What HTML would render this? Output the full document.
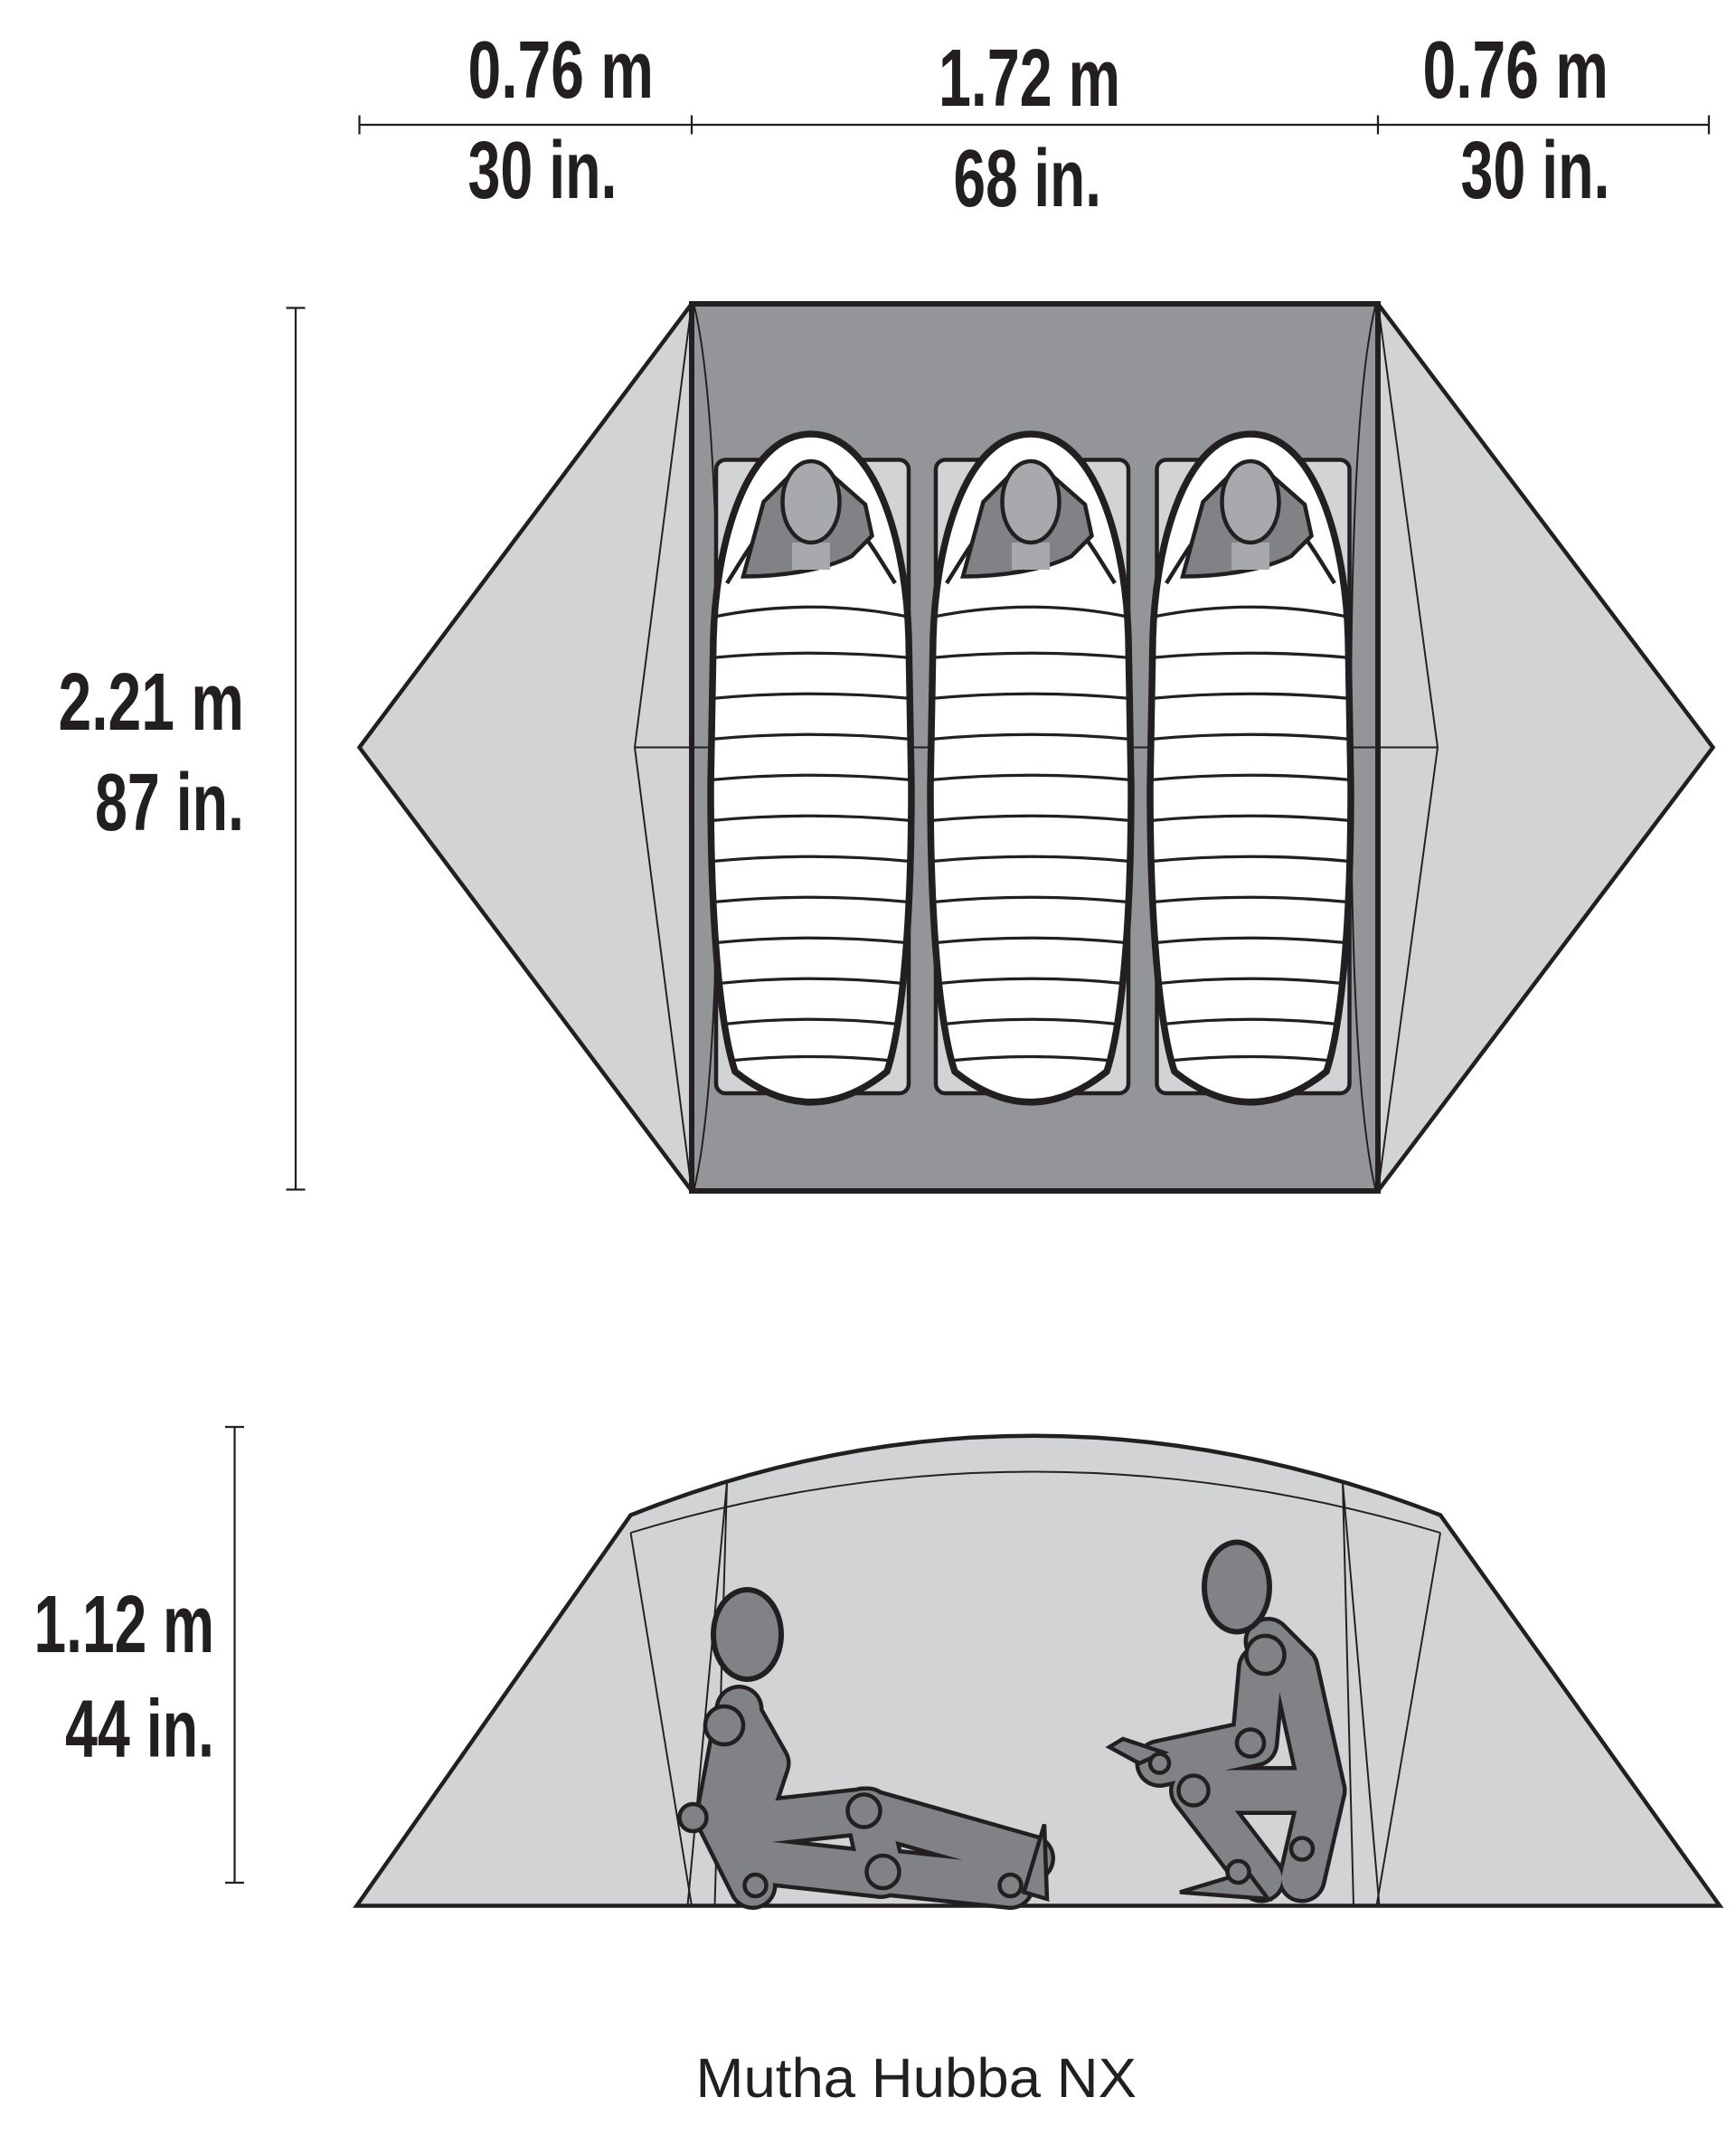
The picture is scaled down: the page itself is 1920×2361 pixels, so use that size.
<!DOCTYPE html>
<html><head><meta charset="utf-8"><style>
html,body{margin:0;padding:0;background:#fff;}
svg{display:block;}
.t{font-family:"Liberation Sans",sans-serif;font-weight:bold;fill:#231f20;font-size:60px;}
</style></head><body>
<svg width="1920" height="2361" viewBox="0 0 1280 1574" xmlns="http://www.w3.org/2000/svg">
<defs>
<g id="bag">
 <path d="M0,320 C48,320 70,400 72,470 L74,580 C74,690 66,760 56,790 Q0,835 -56,790 C-66,760 -74,690 -74,580 L-72,470 C-70,400 -48,320 0,320Z" fill="#fff" stroke="#231f20" stroke-width="5"/>
 <path d="M-62,430 C-40,395 -30,375 0,372 C30,375 40,395 62,430" fill="none" stroke="#231f20" stroke-width="3"/>
 <path d="M-50,425 L-35,370 L-15,350 L15,350 L40,372 L45,395 L30,410 C10,420 -20,425 -50,425Z" fill="#808285" stroke="#231f20" stroke-width="3"/>
 <path d="M-14,400 L-14,420 L14,420 L14,400Z" fill="#a7a9ac"/>
 <ellipse cx="0" cy="370" rx="21" ry="30" fill="#a7a9ac" stroke="#231f20" stroke-width="3"/>
 <g stroke="#231f20" stroke-width="2.2" fill="none">
  <path d="M-73,455 Q0,440 73,455"/><path d="M-74,485 Q0,478 74,485"/><path d="M-74,515 Q0,508 74,515"/>
  <path d="M-74,545 Q0,538 74,545"/><path d="M-74,575 Q0,568 74,575"/><path d="M-74,605 Q0,598 74,605"/>
  <path d="M-73,635 Q0,628 73,635"/><path d="M-72,665 Q0,658 72,665"/><path d="M-70,695 Q0,688 70,695"/>
  <path d="M-68,725 Q0,718 68,725"/><path d="M-64,755 Q0,748 64,755"/><path d="M-60,782 Q0,776 60,782"/>
 </g>
</g>
</defs>
<g stroke="#231f20" stroke-width="1.5">
<line x1="265" y1="92" x2="1260" y2="92"/>
<line x1="265" y1="85" x2="265" y2="99"/><line x1="510" y1="85" x2="510" y2="99"/>
<line x1="1016" y1="85" x2="1016" y2="99"/><line x1="1260" y1="85" x2="1260" y2="99"/>
<line x1="218" y1="227" x2="218" y2="877"/><line x1="211" y1="227" x2="225" y2="227"/><line x1="211" y1="877" x2="225" y2="877"/>
<line x1="173" y1="1052" x2="173" y2="1388"/><line x1="166" y1="1052" x2="180" y2="1052"/><line x1="166" y1="1388" x2="180" y2="1388"/>
</g>
<g class="t">
<text x="345" y="72" textLength="137" lengthAdjust="spacingAndGlyphs">0.76 m</text>
<text x="345" y="146" textLength="110" lengthAdjust="spacingAndGlyphs">30 in.</text>
<text x="692" y="78" textLength="134" lengthAdjust="spacingAndGlyphs">1.72 m</text>
<text x="703" y="152" textLength="109" lengthAdjust="spacingAndGlyphs">68 in.</text>
<text x="1049" y="72" textLength="137" lengthAdjust="spacingAndGlyphs">0.76 m</text>
<text x="1077" y="146" textLength="110" lengthAdjust="spacingAndGlyphs">30 in.</text>
<text x="43" y="538" textLength="137" lengthAdjust="spacingAndGlyphs">2.21 m</text>
<text x="70" y="612" textLength="110" lengthAdjust="spacingAndGlyphs">87 in.</text>
<text x="25" y="1218" textLength="133" lengthAdjust="spacingAndGlyphs">1.12 m</text>
<text x="48" y="1295" textLength="110" lengthAdjust="spacingAndGlyphs">44 in.</text>
</g>
<polygon points="265,551 510,224 1016,224 1263,551 1016,878 510,878" fill="#d1d3d4" stroke="#231f20" stroke-width="3"/>
<rect x="510" y="224" width="506" height="654" fill="#939598" stroke="#231f20" stroke-width="4"/>
<g stroke="#231f20" stroke-width="1.3" fill="none">
<path d="M510,224 L468,551 L510,878"/><path d="M1016,224 L1060,551 L1016,878"/>
<path d="M512,226 Q530,300 530,551 Q530,800 512,876"/><path d="M1014,226 Q996,300 996,551 Q996,800 1014,876"/>
<line x1="468" y1="551" x2="1060" y2="551"/>
</g>
<g fill="#d1d3d4" stroke="#231f20" stroke-width="3">
<rect x="528" y="339" width="142" height="467" rx="7"/>
<rect x="690" y="339" width="142" height="467" rx="7"/>
<rect x="853" y="339" width="142" height="467" rx="7"/>
</g>
<use href="#bag" x="598"/><use href="#bag" x="760"/><use href="#bag" x="922"/>
<path d="M263,1405 L465,1117 Q760,1000 1062,1117 L1268,1405 Z" fill="#d1d3d4" stroke="#231f20" stroke-width="3"/>
<g stroke="#231f20" stroke-width="1.3" fill="none">
<path d="M465,1130 Q760,1040 1062,1130"/>
<path d="M536,1093 L507,1405"/><path d="M536,1093 L527,1405"/><path d="M465,1130 L510,1405"/>
<path d="M990,1093 L1017,1405"/><path d="M990,1093 L998,1405"/><path d="M1062,1130 L1015,1405"/>
</g>
<g stroke-linecap="round" stroke-linejoin="round" fill="none">
<g stroke="#231f20" stroke-width="36">
<path d="M545,1260 L530,1340 L555,1390"/><path d="M548,1270 L565,1300 L550,1345 L640,1335 L650,1380 L745,1390"/>
<path d="M560,1372 L650,1382"/><path d="M637,1335 L760,1370"/>
</g>
<g stroke="#808285" stroke-width="30">
<path d="M545,1260 L530,1340 L555,1390"/><path d="M548,1270 L565,1300 L550,1345 L640,1335 L650,1380 L745,1390"/>
<path d="M560,1372 L650,1382"/><path d="M637,1335 L760,1370"/>
</g>
</g>
<path d="M755,1395 L770,1345 L772,1400 Z" fill="#808285" stroke="#231f20" stroke-width="3"/>
<ellipse cx="551" cy="1205" rx="25" ry="33" fill="#808285" stroke="#231f20" stroke-width="4"/>
<g fill="#808285" stroke="#231f20" stroke-width="3">
<circle cx="534" cy="1272" r="14"/><circle cx="511" cy="1340" r="10"/><circle cx="637" cy="1335" r="12"/>
<circle cx="651" cy="1380" r="12"/><circle cx="557" cy="1390" r="8"/><circle cx="745" cy="1390" r="8"/>
</g>
<g stroke-linecap="round" stroke-linejoin="round" fill="none">
<g stroke="#231f20" stroke-width="36">
<path d="M935,1210 L955,1230 L975,1320 L880,1320 L930,1385"/><path d="M975,1320 L960,1385"/>
<path d="M930,1230 L925,1285 L855,1300"/>
</g>
<g stroke="#808285" stroke-width="30">
<path d="M935,1210 L955,1230 L975,1320 L880,1320 L930,1385"/><path d="M975,1320 L960,1385"/>
<path d="M930,1230 L925,1285 L855,1300"/>
</g>
</g>
<path d="M840,1300 L818,1288 L828,1282 L858,1292Z" fill="#808285" stroke="#231f20" stroke-width="3"/>
<path d="M870,1395 L920,1380 L935,1400 Z" fill="#808285" stroke="#231f20" stroke-width="3"/>
<ellipse cx="912" cy="1170" rx="24" ry="33" fill="#808285" stroke="#231f20" stroke-width="4"/>
<g fill="#808285" stroke="#231f20" stroke-width="3">
<circle cx="933" cy="1220" r="14"/><circle cx="922" cy="1285" r="10"/><circle cx="880" cy="1320" r="11"/>
<circle cx="855" cy="1300" r="7"/><circle cx="960" cy="1363" r="8"/><circle cx="913" cy="1380" r="8"/>
</g>
<text x="513" y="1546" textLength="325" lengthAdjust="spacingAndGlyphs" font-family="'Liberation Sans',sans-serif" font-size="41" fill="#231f20">Mutha Hubba NX</text>
</svg>
</body></html>
